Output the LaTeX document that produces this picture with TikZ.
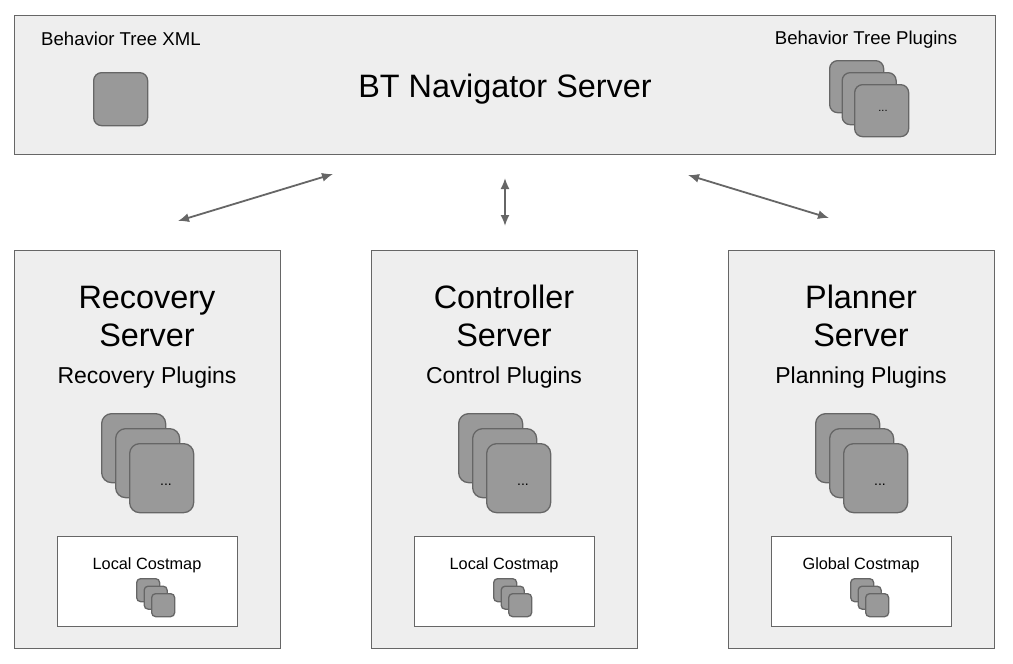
\documentclass[tikz,border=0pt]{standalone}
\usepackage{fontspec}
\setmainfont{Liberation Sans}
\usetikzlibrary{arrows.meta}
\definecolor{boxfill}{HTML}{EEEEEE}
\definecolor{edgegray}{HTML}{666666}
\definecolor{sqfill}{HTML}{999999}
\newcommand\plugstack[8]{% prefix, x, y, w, h, dx, dy, radius
  \foreach \i in {0,1,2}
    \node[sq=#8, minimum width=#4, minimum height=#5] (#1\i) at ({#2+\i*#6}, {#3+\i*#7}) {};
}
\begin{document}
\begin{tikzpicture}[x=1pt,y=-1pt,
  panel/.style={draw=edgegray, fill=boxfill, line width=1.4pt, inner sep=0pt, anchor=north west},
  cmbox/.style={draw=edgegray, fill=white, line width=1.2pt, inner sep=0pt, anchor=north west, minimum width=180, minimum height=90},
  sq/.style={draw=edgegray, fill=sqfill, line width=1.3pt, rounded corners=#1, inner sep=0pt, anchor=north west},
  sq/.default=8pt,
  bigtxt/.style={font=\fontsize{32.4}{38}\selectfont, anchor=base, inner sep=0pt},
  midtxt/.style={font=\fontsize{23}{27}\selectfont, anchor=base, inner sep=0pt},
  smalltxt/.style={font=\fontsize{18.6}{22}\selectfont, inner sep=0pt},
  cmtxt/.style={font=\fontsize{16.3}{19}\selectfont, anchor=base, inner sep=0pt},
  dots/.style={font=\fontsize{#1}{#1}\selectfont, inner sep=0pt},
  link/.style={draw=edgegray, line width=1.8pt, {Latex[length=11pt,width=9pt]}-{Latex[length=11pt,width=9pt]}}
]
\useasboundingbox (0,0) rectangle (1013,664);
\fill[white] (0,0) rectangle (1013,664);

% top panel
\node[panel, minimum width=981, minimum height=139] (bt) at (14,15) {};
\node[smalltxt, anchor=base west] (btxmlt) at (41,45) {Behavior Tree XML};
\node[sq=8pt, minimum width=54, minimum height=53] (btxml) at (93,72) {};
\node[bigtxt] (bttitle) at (505,97) {BT Navigator Server};
\node[smalltxt, anchor=base] (btplt) at (866,44) {Behavior Tree Plugins};
\plugstack{btp}{829}{60}{54}{52}{12.5}{12}{8pt}
\node[dots=11] (btpd) at (883,111) {...};

% bottom panels
\foreach \n/\ox/\la/\lb/\lc/\cm in {rec/14/Recovery/Server/Recovery Plugins/Local Costmap,
                                   ctl/371/Controller/Server/Control Plugins/Local Costmap,
                                   pln/728/Planner/Server/Planning Plugins/Global Costmap}{
  \node[panel, minimum width=266, minimum height=398] (\n) at (\ox,250) {};
  \node[bigtxt] (\n t1) at (\ox+133,308) {\la};
  \node[bigtxt] (\n t2) at (\ox+133,346) {\lb};
  \node[midtxt] (\n t3) at (\ox+133,383) {\lc};
  \plugstack{\n p}{\ox+87}{413}{64}{69}{14}{15}{10pt}
  \node[dots=14] (\n pd) at (\ox+152,485) {...};
  \node[cmbox] (\n cm) at (\ox+43,536) {};
  \node[cmtxt] (\n cmt) at (\ox+133,569) {\cm};
  \plugstack{\n s}{\ox+122}{578}{23}{23}{7.5}{7.5}{4pt}
}

% connectors
\coordinate (a1) at (333,174);
\coordinate (a2) at (178,221);
\coordinate (b1) at (505,178);
\coordinate (b2) at (505,226);
\coordinate (c1) at (688,175);
\coordinate (c2) at (829,218);
\draw[link] (a1) -- (a2);
\draw[link] (b1) -- (b2);
\draw[link] (c1) -- (c2);
\end{tikzpicture}
\end{document}
